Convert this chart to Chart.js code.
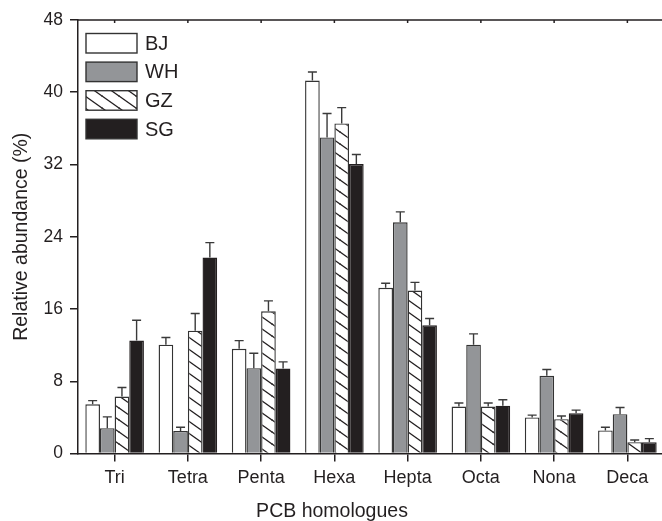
<!DOCTYPE html>
<html>
<head>
<meta charset="utf-8">
<script src="https://cdn.jsdelivr.net/npm/chart.js@4.4.0/dist/chart.umd.min.js"></script>
<style>
  html, body { margin: 0; padding: 0; background: #fff; overflow: hidden; }
  #wrap { width: 667px; height: 521px; }
</style>
</head>
<body>
<div id="wrap"><canvas id="pcb-chart" width="667" height="521"></canvas></div>
<script>
const categories = ['Tri', 'Tetra', 'Penta', 'Hexa', 'Hepta', 'Octa', 'Nona', 'Deca'];
const yTicks = [0, 8, 16, 24, 32, 40, 48];

const bjValues = [5.45, 12.05, 11.6, 41.3, 18.35, 5.2, 4.0, 2.55];
const whValues = [2.8, 2.5, 9.45, 35.0, 25.6, 12.05, 8.6, 4.35];
const gzValues = [6.3, 13.6, 15.75, 36.55, 18.05, 5.2, 3.8, 1.25];
const sgValues = [12.5, 21.7, 9.4, 32.05, 14.2, 5.3, 4.45, 1.25];

const bjErrors = [0.4, 0.8, 0.9, 0.95, 0.5, 0.4, 0.25, 0.35];
const whErrors = [1.25, 0.4, 1.65, 2.65, 1.15, 1.2, 0.7, 0.75];
const gzErrors = [1.0, 1.9, 1.15, 1.75, 0.9, 0.4, 0.35, 0.25];
const sgErrors = [2.25, 1.65, 0.75, 1.05, 0.75, 0.65, 0.35, 0.4];

const ink = '#231f20';
const font = 'Liberation Sans, Arial, sans-serif';

// diagonal "\" hatch for GZ
function makeHatch() {
  let c = document.createElement('canvas');
  let w = 17, h = 12;
  c.width = w; c.height = h;
  let g = c.getContext('2d');
  g.fillStyle = '#fff';
  g.fillRect(0, 0, w, h);
  g.strokeStyle = ink;
  g.lineWidth = 1.3;
  [[0, 0], [w, 0], [-w, 0], [0, h], [0, -h]].forEach(([dx, dy]) => {
    g.beginPath();
    g.moveTo(dx - w, dy - h);
    g.lineTo(dx + 2 * w, dy + 2 * h);
    g.stroke();
  });
  return g.createPattern(c, 'repeat');
}

const errorSets = [bjErrors, whErrors, gzErrors, sgErrors];

const errorBars = {
  id: 'errorBars',
  afterDatasetsDraw(chart) {
    let ctx = chart.ctx, y = chart.scales.y;
    ctx.save();
    ctx.strokeStyle = '#3a3a3a';
    ctx.lineWidth = 1.4;
    chart.data.datasets.forEach((ds, d) => {
      let meta = chart.getDatasetMeta(d);
      meta.data.forEach((bar, i) => {
        let top = y.getPixelForValue(ds.data[i] + errorSets[d][i]);
        ctx.beginPath();
        ctx.moveTo(bar.x, bar.y);
        ctx.lineTo(bar.x, top);
        ctx.moveTo(bar.x - 4.5, top);
        ctx.lineTo(bar.x + 4.5, top);
        ctx.stroke();
      });
    });
    ctx.restore();
  }
};

const frameAndLegend = {
  id: 'frameAndLegend',
  afterDraw(chart) {
    let ctx = chart.ctx, a = chart.chartArea, x = chart.scales.x;
    ctx.save();
    ctx.strokeStyle = ink;
    ctx.lineWidth = 1.5;
    ctx.beginPath();
    ctx.moveTo(a.left, a.top);
    ctx.lineTo(a.right, a.top);
    ctx.moveTo(a.right, a.top);
    ctx.lineTo(a.right, a.bottom);
    ctx.stroke();
    categories.forEach((c, i) => {
      let px = x.getPixelForValue(i);
      ctx.beginPath();
      ctx.moveTo(px, a.top);
      ctx.lineTo(px, a.top + 3);
      ctx.stroke();
    });

    // legend
    ctx.font = '20px ' + font;
    ctx.textBaseline = 'middle';
    ctx.fillStyle = ink;
    chart.data.datasets.forEach((ds, d) => {
      let bx = 86, by = 33.5 + d * 28.6, bw = 51, bh = 19.5;
      ctx.fillStyle = ds.backgroundColor;
      ctx.fillRect(bx, by, bw, bh);
      ctx.lineWidth = 1.4;
      ctx.strokeStyle = '#333';
      ctx.strokeRect(bx, by, bw, bh);
      ctx.fillStyle = ink;
      ctx.fillText(ds.label, 145, by + bh / 2 + 1);
    });
    ctx.restore();
  }
};

const barBorder = '#333';

new Chart(document.getElementById('pcb-chart'), {
  type: 'bar',
  data: {
    labels: categories,
    datasets: [
      { label: 'BJ', data: bjValues, backgroundColor: '#ffffff', borderColor: barBorder, borderWidth: 1.4 },
      { label: 'WH', data: whValues, backgroundColor: '#939598', borderColor: barBorder, borderWidth: 1.4 },
      { label: 'GZ', data: gzValues, backgroundColor: makeHatch(), borderColor: barBorder, borderWidth: 1.4 },
      { label: 'SG', data: sgValues, backgroundColor: ink, borderColor: ink, borderWidth: 1.4 },
    ]
  },
  options: {
    responsive: false,
    animation: false,
    devicePixelRatio: 1,
    categoryPercentage: 0.8,
    barPercentage: 1.0,
    layout: { padding: { left: 0, right: 3, top: 20, bottom: 0 } },
    plugins: {
      legend: { display: false },
      tooltip: { enabled: false },
      title: {
        display: true,
        position: 'bottom',
        text: 'PCB homologues',
        color: ink,
        padding: 0,
        font: { family: font, size: 19.5, weight: 'normal', lineHeight: 1.0 }
      }
    },
    scales: {
      x: {
        grid: {
          offset: false,
          drawOnChartArea: false,
          drawTicks: true,
          tickLength: 8,
          color: ink,
          lineWidth: 1.5
        },
        border: { display: true, color: ink, width: 1.5 },
        ticks: {
          color: ink,
          padding: 6,
          maxRotation: 0,
          autoSkip: false,
          font: { family: font, size: 18 }
        },
        afterFit: (s) => { s.height = 48; }
      },
      y: {
        min: 0,
        max: 48,
        afterBuildTicks: (s) => { s.ticks = yTicks.map(v => ({ value: v })); },
        grid: {
          drawOnChartArea: false,
          drawTicks: true,
          tickLength: 8,
          color: ink,
          lineWidth: 1.5
        },
        border: { display: true, color: ink, width: 1.5 },
        ticks: {
          color: ink,
          padding: 7,
          font: { family: font, size: 17.5 }
        },
        title: {
          display: true,
          text: 'Relative abundance (%)',
          color: ink,
          padding: { top: 10, bottom: 0 },
          font: { family: font, size: 19.5, lineHeight: 1.2 }
        },
        afterFit: (s) => { s.width = 78; }
      }
    }
  },
  plugins: [errorBars, frameAndLegend]
});
</script>
</body>
</html>
